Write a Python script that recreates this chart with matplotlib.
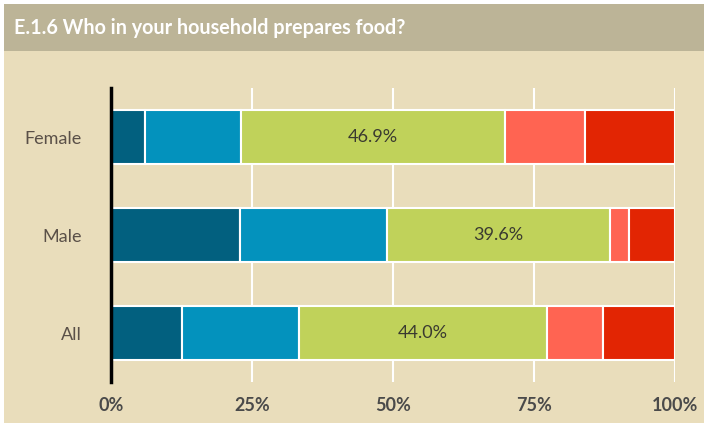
import matplotlib.pyplot as plt
from matplotlib.patches import Rectangle
import numpy as np

# Who prepares food, share of respondents by group (%)
groups = ["Female", "Male", "All"]
seg_female = [6.0, 17.0, 46.9, 14.1, 16.0]
seg_male = [22.9, 26.0, 39.6, 3.3, 8.2]
seg_all = [12.6, 20.7, 44.0, 9.9, 12.8]
labelled_segment = 2  # only the middle answer gets a value label

colors = ["#02607f", "#0392bd", "#c0d25a", "#ff6452", "#e22503"]
tick_vals = [0, 25, 50, 75, 100]
tick_labels = ["0%", "25%", "50%", "75%", "100%"]

plt.rcParams["font.family"] = ["Lato", "DejaVu Sans"]

fig = plt.figure(figsize=(7.04, 4.23), dpi=100)
fig.patch.set_facecolor("white")

W, H = 704, 423
# header band and beige panel
fig.patches.append(Rectangle((4 / W, 0), 1 - 4 / W, 1 - 51 / H, transform=fig.transFigure,
                             facecolor="#e9ddbb", edgecolor="none", zorder=-2))
fig.patches.append(Rectangle((4 / W, 1 - 51 / H), 1 - 4 / W, 47 / H, transform=fig.transFigure,
                             facecolor="#bcb497", edgecolor="none", zorder=-2))
fig.text(14 / W, 1 - 28 / H, "E.1.6 Who in your household prepares food?",
         color="white", fontsize=14.2, fontweight="bold", va="center", ha="left")

ax = fig.add_axes([111 / W, 1 - 382 / H, 564 / W, 294 / H])
ax.set_facecolor("none")
ax.set_zorder(1)

data = np.array([seg_female, seg_male, seg_all])
ypos = np.arange(len(groups))
left = np.zeros(len(groups))
for i in range(data.shape[1]):
    ax.barh(ypos, data[:, i], left=left, height=0.55, color=colors[i],
            edgecolor="white", linewidth=1.5, zorder=3)
    if i == labelled_segment:
        for y, l, v in zip(ypos, left, data[:, i]):
            ax.text(l + v / 2, y, f"{v:.1f}%", ha="center", va="center",
                    fontsize=13, fontweight="normal", color="#3a3a30", zorder=4)
    left += data[:, i]

ax.set_xlim(0, 100)
ax.set_ylim(len(groups) - 0.5, -0.5)
ax.set_yticks(ypos)
ax.set_yticklabels(groups, fontsize=13, color="#5a5048")
ax.set_xticks(tick_vals)
ax.set_xticklabels(tick_labels, fontsize=13, fontweight="bold", color="#4a4a4a")
ax.tick_params(length=0, pad=11)
ax.tick_params(axis="y", pad=21)

ax.grid(axis="x", color="white", linewidth=1.5, zorder=1)
for s in ["top", "right", "bottom"]:
    ax.spines[s].set_visible(False)
ax.spines["left"].set_color("black")
ax.spines["left"].set_linewidth(2.5)
ax.spines["left"].set_zorder(5)

fig.savefig("out.png", dpi=100)
